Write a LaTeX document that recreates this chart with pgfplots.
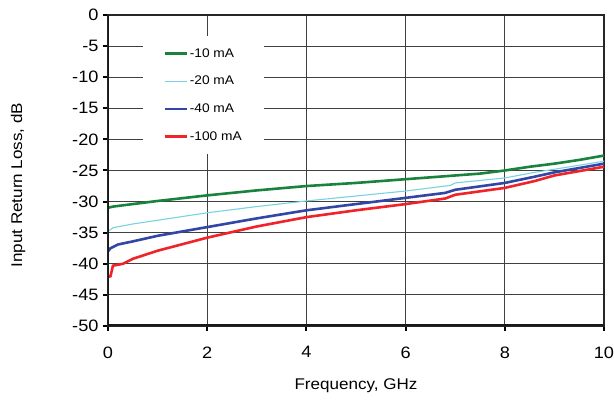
\documentclass[border=0pt]{standalone}
\usepackage{pgfplots}
\pgfplotsset{compat=1.18}
\usepackage{fontspec}
\setmainfont{Liberation Sans}[FakeStretch=1.1]
\definecolor{cgreen}{RGB}{25,130,60}
\definecolor{ccyan}{RGB}{120,210,225}
\definecolor{cblue}{RGB}{50,70,165}
\definecolor{cred}{RGB}{240,35,40}
\begin{document}
\begin{tikzpicture}
\begin{axis}[
    scale only axis,
    width=496pt, height=311pt,
    xmin=0, xmax=10, ymin=-50, ymax=0,
    xtick={0,2,...,10}, ytick={-50,-45,...,0},
    xtick pos=left, ytick pos=left,
    tick align=outside,
    major tick length=5pt,
    tick style={black, line width=2pt},
    grid=major,
    grid style={black!75, line width=0.9pt},
    axis line style={black!85, line width=1.3pt},
    ticklabel style={font=\fontsize{16.5}{19}\selectfont},
    label style={font=\fontsize{15.5}{18}\selectfont},
    xlabel={Frequency, GHz},
    ylabel={Input Return Loss, dB},
    xlabel style={at={(axis description cs:0.5,0)}, anchor=center, yshift=-60pt},
    ylabel style={at={(axis description cs:0,0.453)}, anchor=center, yshift=90pt},
    xticklabel style={yshift=-12pt},
    yticklabel style={xshift=-1pt},
    /pgf/number format/assume math mode=true,
    legend style={at={(0.0706,0.932)}, anchor=north west, draw=none,
        fill=white, inner xsep=20pt, inner ysep=10pt,
        row sep=13.5pt, font=\fontsize{12.5}{15}\selectfont},
    legend cell align=left,
    legend image code/.code={\draw[#1] (0pt,0pt) -- (22pt,0pt);},
]
\addplot[cgreen, line width=2.6pt] coordinates {
(0,-31.0) (0.1,-30.8) (0.5,-30.4) (1,-29.9) (2,-29.0) (3,-28.2) (4,-27.5)
(5,-27.0) (6,-26.4) (7,-25.8) (7.5,-25.5) (8,-25.0) (8.5,-24.4) (9,-23.9)
(9.5,-23.3) (10,-22.6)};
\addlegendentry{-10 mA}
\addplot[ccyan, line width=1.1pt] coordinates {
(0,-34.8) (0.1,-34.2) (0.5,-33.6) (1,-33.0) (2,-31.8) (3,-30.8) (4,-29.9)
(5,-29.1) (6,-28.3) (6.9,-27.4) (7,-27.0) (8,-26.2) (8.6,-25.3) (9,-24.8)
(10,-23.5)};
\addlegendentry{-20 mA}
\addplot[cblue, line width=2.6pt] coordinates {
(0,-38.0) (0.05,-37.5) (0.2,-36.9) (0.5,-36.4) (1,-35.5) (2,-34.1) (3,-32.7)
(4,-31.4) (5,-30.4) (6,-29.4) (6.8,-28.6) (7,-28.1) (8,-27.0) (8.6,-26.0)
(9,-25.3) (10,-23.9)};
\addlegendentry{-40 mA}
\addplot[cred, line width=2.6pt] coordinates {
(0,-42.1) (0.05,-42.0) (0.1,-40.3) (0.3,-40.0) (0.5,-39.2) (1,-37.9) (2,-35.8)
(3,-34.0) (4,-32.5) (5,-31.4) (6,-30.4) (6.8,-29.5) (7,-28.9) (8,-27.8)
(8.6,-26.7) (9,-25.8) (10,-24.4)};
\addlegendentry{-100 mA}
% heavy left and bottom axis lines
\draw[black!90, line width=3pt] (rel axis cs:0,1) -- (rel axis cs:0,0) -- (rel axis cs:1,0);
\coordinate (ll) at (rel axis cs:0,0);
\coordinate (ur) at (rel axis cs:1,1);
\end{axis}
\pgfresetboundingbox
\path ([shift={(-108pt,-80pt)}]ll) rectangle ([shift={(10pt,15pt)}]ur);
\end{tikzpicture}
\end{document}
